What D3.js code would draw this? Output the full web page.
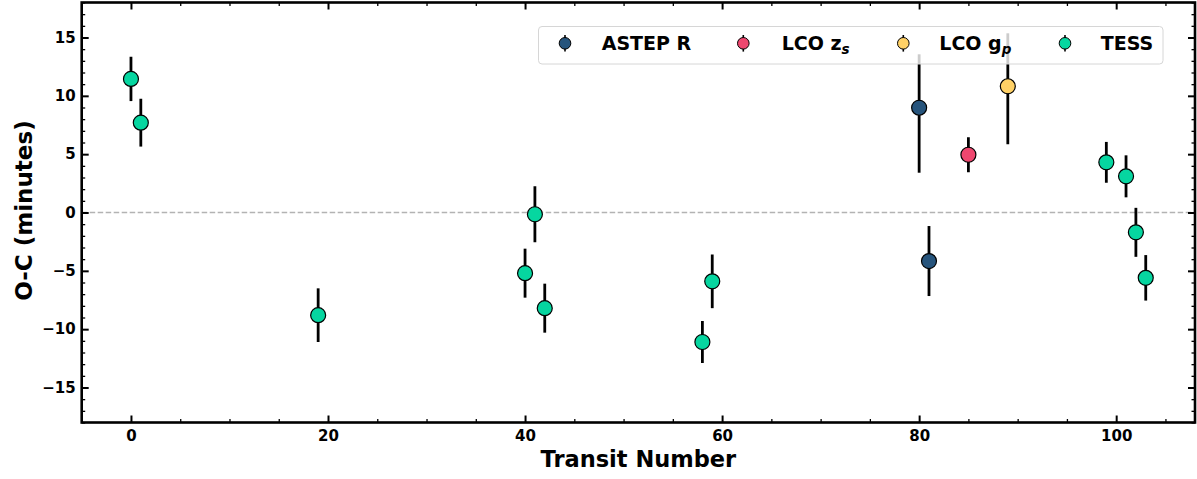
<!DOCTYPE html>
<html>
<head>
<meta charset="utf-8">
<script src="https://cdn.jsdelivr.net/npm/d3@7"></script>
<style>
  html, body { margin: 0; padding: 0; background: #fff; }
  svg { display: block; font-family: "DejaVu Sans", sans-serif; font-weight: bold; }
</style>
</head>
<body>
<svg id="chart" width="1197" height="479"></svg>
<script>
// Transit timing residuals by instrument
const tessEpoch = [0, 1, 19, 40, 41, 42, 58, 59, 99, 101, 102, 103];
const tessOC    = [11.45, 7.7, -8.8, -5.2, -0.15, -8.2, -11.1, -5.9, 4.3, 3.1, -1.7, -5.6];
const tessErr   = [1.9, 2.05, 2.3, 2.1, 2.4, 2.1, 1.8, 2.3, 1.75, 1.8, 2.1, 1.95];

const astepEpoch = [80, 81];
const astepOC    = [8.98, -4.16];
const astepErrLo = [5.57, 3.0];
const astepErrHi = [4.58, 3.0];

const lcoZEpoch = [85];
const lcoZOC    = [4.95];
const lcoZErr   = [1.5];

const lcoGEpoch = [89];
const lcoGOC    = [10.82];
const lcoGErrLo = [4.97];
const lcoGErrHi = [4.54];

const xMajorTicks = [0, 20, 40, 60, 80, 100];
const yMajorTicks = [-15, -10, -5, 0, 5, 10, 15];

const seriesNames = ["ASTEP R", "LCO z", "LCO g", "TESS"];
const seriesSubs  = ["", "s", "p", ""];
const seriesColors = ["#26547c", "#ef476f", "#ffd166", "#06d6a0"];

function rows(epoch, oc, lo, hi) {
  return epoch.map((e, i) => ({ x: e, y: oc[i], lo: lo[i], hi: hi[i] }));
}
const series = [
  rows(astepEpoch, astepOC, astepErrLo, astepErrHi),
  rows(lcoZEpoch, lcoZOC, lcoZErr, lcoZErr),
  rows(lcoGEpoch, lcoGOC, lcoGErrLo, lcoGErrHi),
  rows(tessEpoch, tessOC, tessErr, tessErr)
];

const svg = d3.select("#chart");
const L = 81.7, R = 1195, T = 2.5, B = 422.5;

const x = d3.scaleLinear().domain([-5, 108]).range([L, R]);
const y = d3.scaleLinear().domain([-18, 18]).range([B, T]);

// Zero reference line
svg.append("line")
  .attr("x1", L).attr("x2", R)
  .attr("y1", y(0)).attr("y2", y(0))
  .attr("stroke", "#b3b3b3").attr("stroke-width", 1.4)
  .attr("stroke-dasharray", "5.5,2.5");

// Error bars then markers
const plot = svg.append("g");
series.forEach((data, si) => {
  const g = plot.append("g");
  g.selectAll("line.err").data(data).join("line")
    .attr("class", "err")
    .attr("x1", d => x(d.x)).attr("x2", d => x(d.x))
    .attr("y1", d => y(d.y - d.lo)).attr("y2", d => y(d.y + d.hi))
    .attr("stroke", "#000").attr("stroke-width", 2.8);
  g.selectAll("circle").data(data).join("circle")
    .attr("cx", d => x(d.x)).attr("cy", d => y(d.y))
    .attr("r", 7.5)
    .attr("fill", seriesColors[si])
    .attr("stroke", "#000").attr("stroke-width", 1.2);
});

// Axes with inward ticks on all four sides
const xMinor = d3.range(-5, 108, 5).filter(v => !xMajorTicks.includes(v));
const yMinor = d3.range(-18, 19, 1).filter(v => !yMajorTicks.includes(v));

function tickAxis(axisFn, scale, values, len, width, pad, withLabels) {
  const ax = axisFn(scale).tickValues(values).tickSizeInner(-len).tickSizeOuter(0)
    .tickPadding(pad);
  if (!withLabels) ax.tickFormat("");
  else ax.tickFormat(d => (d < 0 ? "\u2212" + Math.abs(d) : "" + d));
  return g => {
    g.call(ax);
    g.select(".domain").remove();
    g.selectAll(".tick line").attr("stroke", "#000").attr("stroke-width", width);
    g.selectAll(".tick text")
      .attr("fill", "#000")
      .style("font-family", "'DejaVu Sans', sans-serif")
      .style("font-weight", "bold")
      .style("font-size", "15px");
  };
}

svg.append("g").attr("transform", `translate(0,${B})`).call(tickAxis(d3.axisBottom, x, xMinor, 3.5, 1.3, 8, false));
svg.append("g").attr("transform", `translate(0,${B})`).call(tickAxis(d3.axisBottom, x, xMajorTicks, 7, 2, 8, true));
svg.append("g").attr("transform", `translate(0,${T})`).call(tickAxis(d3.axisTop, x, xMinor, 3.5, 1.3, 8, false));
svg.append("g").attr("transform", `translate(0,${T})`).call(tickAxis(d3.axisTop, x, xMajorTicks, 7, 2, 8, false));

svg.append("g").attr("transform", `translate(${L},0)`).call(tickAxis(d3.axisLeft, y, yMinor, 3.5, 1.3, 6, false));
svg.append("g").attr("transform", `translate(${L},0)`).call(tickAxis(d3.axisLeft, y, yMajorTicks, 7, 2, 6, true));
svg.append("g").attr("transform", `translate(${R},0)`).call(tickAxis(d3.axisRight, y, yMinor, 3.5, 1.3, 6, false));
svg.append("g").attr("transform", `translate(${R},0)`).call(tickAxis(d3.axisRight, y, yMajorTicks, 7, 2, 6, false));

// Frame
svg.append("rect")
  .attr("x", L).attr("y", T).attr("width", R - L).attr("height", B - T)
  .attr("fill", "none").attr("stroke", "#000").attr("stroke-width", 2.6);

// Axis titles
svg.append("text")
  .attr("x", (L + R) / 2).attr("y", 467)
  .attr("text-anchor", "middle")
  .style("font-size", "22.5px")
  .text("Transit Number");

svg.append("text")
  .attr("transform", `translate(31.5,${(T + B) / 2 - 2}) rotate(-90)`)
  .attr("text-anchor", "middle")
  .style("font-size", "23px")
  .text("O-C (minutes)");

// Legend
const legend = svg.append("g");
legend.append("rect")
  .attr("x", 538.5).attr("y", 26.5).attr("width", 624.5).attr("height", 37.5)
  .attr("rx", 3.5)
  .attr("fill", "#fff").attr("fill-opacity", 0.8)
  .attr("stroke", "#d6d6d6").attr("stroke-width", 1);

const markerX = [565, 743.3, 903.3, 1065];
const labelX  = [601.7, 781.7, 939.3, 1100.7];
const legY = 43.3;
seriesNames.forEach((name, i) => {
  legend.append("line")
    .attr("x1", markerX[i]).attr("x2", markerX[i])
    .attr("y1", legY - 8.3).attr("y2", legY + 8.3)
    .attr("stroke", "#000").attr("stroke-width", 1.6);
  legend.append("circle")
    .attr("cx", markerX[i]).attr("cy", legY).attr("r", 5.8)
    .attr("fill", seriesColors[i]).attr("stroke", "#000").attr("stroke-width", 1);
  const t = legend.append("text")
    .attr("x", labelX[i]).attr("y", 50)
    .style("font-size", "19px");
  t.append("tspan").text(name);
  if (seriesSubs[i]) {
    t.append("tspan")
      .attr("dy", 4)
      .style("font-size", "13.5px")
      .style("font-style", "italic")
      .text(seriesSubs[i]);
  }
});
</script>
</body>
</html>
